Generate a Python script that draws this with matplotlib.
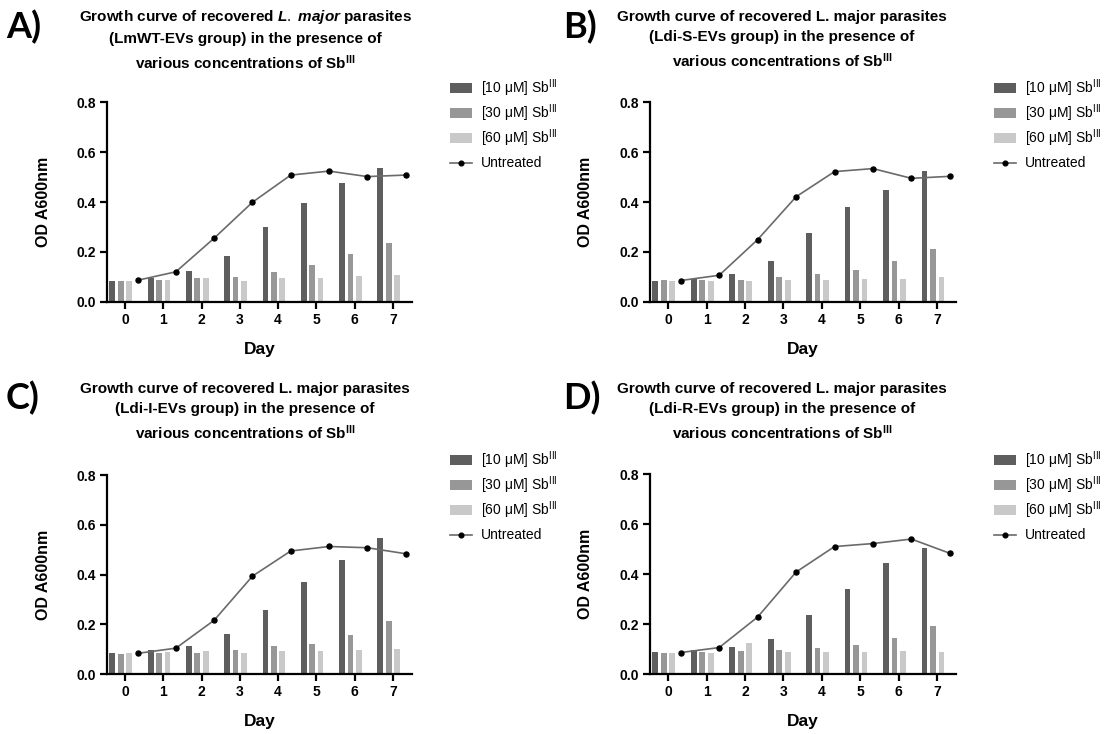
import numpy as np
import matplotlib
matplotlib.use('Agg')
import matplotlib.pyplot as plt
from matplotlib.lines import Line2D
from matplotlib.patches import Rectangle

plt.rcParams['font.family'] = ['Liberation Sans', 'DejaVu Sans']
plt.rcParams['mathtext.fontset'] = 'custom'
plt.rcParams['mathtext.rm'] = 'Liberation Sans'
plt.rcParams['mathtext.bf'] = 'Liberation Sans:bold'
plt.rcParams['mathtext.it'] = 'Liberation Sans:bold:italic'

days = [0, 1, 2, 3, 4, 5, 6, 7]
series_labels = ['[10 μM] Sb$^{\\mathrm{III}}$', '[30 μM] Sb$^{\\mathrm{III}}$',
                 '[60 μM] Sb$^{\\mathrm{III}}$', 'Untreated']
panel_letters = ['A)', 'B)', 'C)', 'D)']
panel_groups = ['LmWT-EVs', 'Ldi-S-EVs', 'Ldi-I-EVs', 'Ldi-R-EVs']

# panel A - LmWT-EVs
a_10 = [0.085, 0.095, 0.125, 0.183, 0.298, 0.395, 0.478, 0.538]
a_30 = [0.085, 0.087, 0.097, 0.100, 0.118, 0.148, 0.192, 0.237]
a_60 = [0.085, 0.087, 0.095, 0.085, 0.097, 0.095, 0.102, 0.108]
a_untreated = [0.086, 0.120, 0.255, 0.399, 0.508, 0.524, 0.502, 0.508]

# panel B - Ldi-S-EVs
b_10 = [0.085, 0.091, 0.110, 0.165, 0.275, 0.379, 0.448, 0.526]
b_30 = [0.086, 0.086, 0.089, 0.098, 0.110, 0.127, 0.163, 0.211]
b_60 = [0.084, 0.084, 0.085, 0.086, 0.087, 0.091, 0.092, 0.100]
b_untreated = [0.085, 0.106, 0.249, 0.421, 0.522, 0.534, 0.495, 0.503]

# panel C - Ldi-I-EVs
c_10 = [0.084, 0.098, 0.115, 0.160, 0.258, 0.372, 0.458, 0.548]
c_30 = [0.083, 0.087, 0.086, 0.098, 0.114, 0.122, 0.157, 0.213]
c_60 = [0.087, 0.088, 0.095, 0.087, 0.095, 0.092, 0.099, 0.103]
c_untreated = [0.084, 0.105, 0.217, 0.394, 0.495, 0.513, 0.508, 0.484]

# panel D - Ldi-R-EVs
d_10 = [0.088, 0.097, 0.108, 0.143, 0.237, 0.341, 0.447, 0.506]
d_30 = [0.087, 0.089, 0.092, 0.096, 0.104, 0.117, 0.144, 0.195]
d_60 = [0.086, 0.085, 0.125, 0.089, 0.089, 0.089, 0.095, 0.090]
d_untreated = [0.087, 0.107, 0.229, 0.409, 0.511, 0.523, 0.541, 0.484]

panels = [(a_10, a_30, a_60, a_untreated),
          (b_10, b_30, b_60, b_untreated),
          (c_10, c_30, c_60, c_untreated),
          (d_10, d_30, d_60, d_untreated)]

bar_colors = ['#5e5e5e', '#979797', '#c9c9c9']
line_color = '#6a6a6a'

W, H = 1106, 734
fig = plt.figure(figsize=(W / 100, H / 100), dpi=100)

# pixel boxes of each plot area: left, right, top, bottom
boxes = [(107, 411.7, 102.3, 301.7),
         (650, 956, 102.3, 301.7),
         (107, 411.7, 475, 674.3),
         (650, 956, 474.3, 674.3)]
title_x = [245, 782, 245, 782]
title_y = [40, 40, 412, 412]
letter_x = [6, 563, 6, 563]
letter_y = [27, 27, 398, 398]
legend_x = [450, 994, 450, 994]
legend_y = [88, 88, 460, 460]
legend_step = 25


def px(x, y):
    return x / W, 1 - y / H


x = np.array(days)
offsets = [-0.33, -0.11, 0.11]
bw = 0.15

for i, (s10, s30, s60, untreated) in enumerate(panels):
    l, r, t, b = boxes[i]
    ax = fig.add_axes([l / W, 1 - b / H, (r - l) / W, (b - t) / H])
    for vals, off, col in zip([s10, s30, s60], offsets, bar_colors):
        ax.bar(x + off, vals, width=bw, color=col, linewidth=0)
    ax.plot(x + 0.33, untreated, color=line_color, lw=1.2, marker='o',
            markersize=3.6, markerfacecolor='black', markeredgecolor='black')

    ax.set_xlim(-0.47, 7.49)
    ax.set_ylim(0, 0.8)
    ax.set_xticks(days)
    ax.set_yticks([0, 0.2, 0.4, 0.6, 0.8])
    ax.set_yticklabels(['0.0', '0.2', '0.4', '0.6', '0.8'])
    for side in ['top', 'right']:
        ax.spines[side].set_visible(False)
    for side in ['left', 'bottom']:
        ax.spines[side].set_linewidth(1.6)
    ax.tick_params(direction='out', length=5, width=1.6, labelsize=10, pad=3)
    for lab in ax.get_xticklabels() + ax.get_yticklabels():
        lab.set_fontweight('bold')
    ax.set_xlabel('Day', fontsize=12.5, fontweight='bold')
    ax.xaxis.set_label_coords(0.5, -0.2)
    ax.set_ylabel('OD A600nm', fontsize=11.5, fontweight='bold')
    ax.yaxis.set_label_coords(-0.185, 0.5)

    if i == 0:
        species = '$\\mathit{L.}$ $\\mathit{major}$'
    else:
        species = 'L. major'
    title = ('Growth curve of recovered ' + species + ' parasites\n'
             '(' + panel_groups[i] + ' group) in the presence of\n'
             'various concentrations of Sb$^{\\mathbf{III}}$')
    fig.text(*px(title_x[i], title_y[i]), title, ha='center', va='center',
             fontsize=11.0, fontweight='bold', linespacing=1.5)
    fig.text(*px(letter_x[i], letter_y[i]), panel_letters[i], ha='left',
             va='center', fontsize=26, fontweight='bold', family='Lato')

    # legend drawn row by row so the spacing matches the original
    lx, ly = legend_x[i], legend_y[i]
    for k, lab in enumerate(series_labels):
        yk = ly + k * legend_step
        if k < 3:
            fig.patches.append(Rectangle(px(lx, yk + 5), 22 / W, 10 / H,
                                         transform=fig.transFigure,
                                         facecolor=bar_colors[k],
                                         edgecolor='none'))
        else:
            fig.lines.append(Line2D([lx / W, (lx + 22) / W],
                                    [1 - yk / H, 1 - yk / H],
                                    transform=fig.transFigure,
                                    color=line_color, lw=1.2))
            fig.lines.append(Line2D([(lx + 11) / W], [1 - yk / H],
                                    transform=fig.transFigure, marker='o',
                                    markersize=3.4, color='black', lw=0))
        fig.text(*px(lx + 31, yk), lab, ha='left', va='center', fontsize=10)

fig.savefig('out.png', dpi=100)
